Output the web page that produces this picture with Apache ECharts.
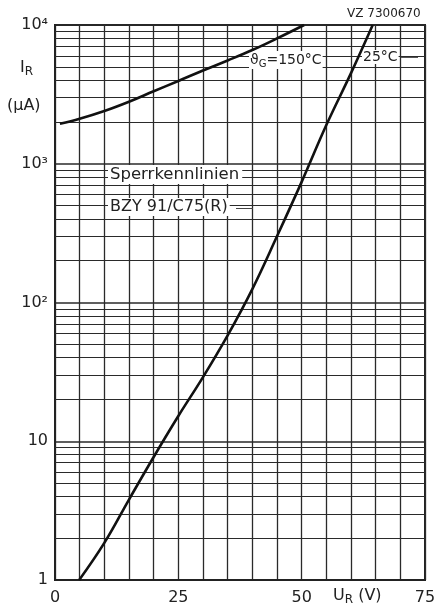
<!DOCTYPE html>
<html>
<head>
<meta charset="utf-8">
<script src="https://cdn.jsdelivr.net/npm/echarts@6/dist/echarts.min.js"></script>
<style>
html,body{margin:0;padding:0;background:#fff;}
#c{width:440px;height:609px;}
</style>
</head>
<body>
<div id="c"></div>
<script>
// Reverse voltage U_R (V) and reverse current I_R (µA)
const ur150 = [1, 5, 10, 15, 20, 25, 30, 35, 40, 45, 50.5];
const ir150 = [1940, 2110, 2400, 2800, 3330, 3950, 4700, 5550, 6600, 8000, 10000];
const ur25 = [4.9, 10, 15, 20, 25, 30, 35, 40, 45, 50, 55, 60, 64.4];
const ir25 = [1, 1.85, 3.8, 7.7, 15.2, 29, 58, 125, 300, 740, 1900, 4500, 10000];
const xTickLabels = [0, 25, 50, 75];
const yTickLabels = {1: '1', 10: '10', 100: '10²', 1000: '10³', 10000: '10⁴'};
const minorMults = [2, 3, 4, 5, 6, 7, 8, 9];
const decades = [1, 10, 100, 1000];

const minorLines = [];
decades.forEach(d => minorMults.forEach(m => minorLines.push({yAxis: d * m})));

const FONT = 'DejaVu Sans';
const gridColor = '#2a2a2a';

const chart = echarts.init(document.getElementById('c'), null, {renderer: 'canvas'});
chart.setOption({
  backgroundColor: '#fff',
  animation: false,
  grid: {left: 55, right: 15, top: 25, bottom: 29, show: true, borderColor: '#222', borderWidth: 2},
  xAxis: {
    type: 'value', min: 0, max: 75, interval: 5,
    axisLine: {show: true, lineStyle: {color: '#222', width: 2}},
    axisTick: {show: false},
    axisLabel: {
      margin: 10, color: '#222', fontFamily: FONT, fontSize: 16,
      formatter: v => xTickLabels.indexOf(v) >= 0 ? String(v) : ''
    },
    splitLine: {show: true, lineStyle: {color: gridColor, width: 1.3}}
  },
  yAxis: {
    type: 'log', logBase: 10, min: 1, max: 10000,
    axisLine: {show: true, lineStyle: {color: '#222', width: 2}},
    axisTick: {show: false},
    axisLabel: {
      margin: 7, color: '#222', fontFamily: FONT, fontSize: 16,
      formatter: v => yTickLabels[Math.round(v)] || ''
    },
    splitLine: {show: true, lineStyle: {color: gridColor, width: 1.5}}
  },
  graphic: [
    {type: 'text', left: 347, top: 8, style: {text: 'VZ 7300670', font: '12px ' + FONT, fill: '#222'}},
    {type: 'text', left: 20, top: 60, style: {
      text: 'I{s|R}', fill: '#222', font: '16px ' + FONT,
      rich: {s: {fontSize: 12, fontFamily: FONT, padding: [7, 0, 0, 0]}}
    }},
    {type: 'text', left: 7, top: 98, style: {text: '(µA)', font: '16px ' + FONT, fill: '#222'}},
    {type: 'text', left: 333, top: 588, style: {
      text: 'U{s|R} (V)', fill: '#222', font: '16px ' + FONT,
      rich: {s: {fontSize: 12, fontFamily: FONT, padding: [7, 0, 0, 0]}}
    }},
    {type: 'text', left: 108, top: 165, z: 100, style: {
      text: 'Sperrkennlinien', font: '16.5px ' + FONT, fill: '#222',
      backgroundColor: '#fff', padding: [1, 3, 1, 2]
    }},
    {type: 'text', left: 108, top: 198, z: 100, style: {
      text: 'BZY 91/C75(R)', font: '16px ' + FONT, fill: '#222',
      backgroundColor: '#fff', padding: [1, 2, 1, 2]
    }},
    {type: 'rect', shape: {x: 236, y: 208, width: 17, height: 1}, z: 100, style: {fill: '#444'}},
    {type: 'text', left: 249, top: 51, z: 100, style: {
      text: 'ϑ{s|G}=150°C', font: '14px ' + FONT, fill: '#222',
      backgroundColor: '#fff', padding: [0, 1, 0, 1],
      rich: {s: {fontSize: 10, fontFamily: FONT, padding: [8, 0, 0, 0]}}
    }},
    {type: 'text', left: 362, top: 50, z: 100, style: {
      text: '25°C', font: '14px ' + FONT, fill: '#222',
      backgroundColor: '#fff', padding: [0, 1, 0, 1]
    }},
    {type: 'rect', shape: {x: 401, y: 57, width: 17, height: 1}, z: 100, style: {fill: '#555'}}
  ],
  series: [
    {
      type: 'line', name: 'grid', data: [], silent: true, z: 2,
      markLine: {
        silent: true, symbol: 'none', label: {show: false},
        lineStyle: {color: gridColor, width: 1.1, type: 'solid'},
        data: minorLines
      }
    },
    {
      type: 'line', name: '150°C', smooth: 0.4, showSymbol: false, z: 200,
      lineStyle: {color: '#111', width: 2.6},
      data: ur150.map((x, i) => [x, ir150[i]])
    },
    {
      type: 'line', name: '25°C', smooth: 0.4, showSymbol: false, z: 200,
      lineStyle: {color: '#111', width: 2.6},
      data: ur25.map((x, i) => [x, ir25[i]])
    }
  ]
});
</script>
</body>
</html>
